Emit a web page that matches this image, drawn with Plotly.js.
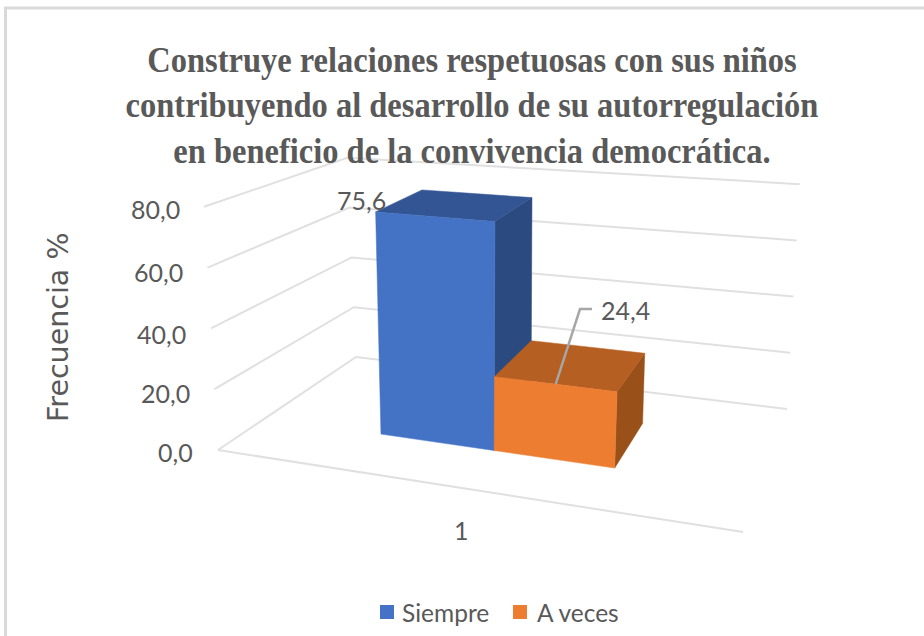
<!DOCTYPE html>
<html><head><meta charset="utf-8">
<script src="https://cdn.plot.ly/plotly-3.0.1.min.js"></script>
<style>html,body{margin:0;padding:0;background:#fff}#c{width:924px;height:636px}</style>
</head><body><div id="c"></div>
<script>
// ---- data ----
var titleLines = ['Construye relaciones respetuosas con sus niños','contribuyendo al desarrollo de su autorregulación','en beneficio de la convivencia democrática.'];
var categories = ['1'];
var seriesNames = ['Siempre','A veces'];
var seriesValues = [75.6, 24.4];
var tickValues = [0,20,40,60,80];
var axisTitle = 'Frecuencia %';

// ---- 3D camera: where the floor corners land, and vertical scale/lean at each corner ----
var corners = {
  FL:{x:218,y:450,k:3.04,d:-0.175}, FR:{x:743,y:532,k:3.47,d:0.22},
  BL:{x:356,y:357,k:2.49,d:-0.11},  BR:{x:787,y:409,k:2.81,d:0.16}
};
var barEdges = [0.233,0.463,0.708];
var depthEdges = [0.35,0.74];
var faceColors = [
  {front:'#4472C4',top:'#335593',side:'#2B4A80'},
  {front:'#ED7D31',top:'#B65F23',side:'#9A5019'}
];
function mix(key,u,w){
  var c=corners;
  return (1-w)*((1-u)*c.FL[key]+u*c.FR[key])+w*((1-u)*c.BL[key]+u*c.BR[key]);
}
function P(u,w,v){ return [mix('x',u,w)+mix('d',u,w)*v, mix('y',u,w)-mix('k',u,w)*v]; }
function fmt(v){ return v.toFixed(1).replace('.',','); }
var traces=[];
function poly(pts,color,name){
  traces.push({type:'scatter',mode:'lines',x:pts.map(function(p){return p[0]}).concat(pts[0][0]),
    y:pts.map(function(p){return p[1]}).concat(pts[0][1]),fill:'toself',fillcolor:color,
    line:{color:color,width:0.5},hoverinfo:'skip',name:name,showlegend:false});
}
function wire(pts){
  traces.push({type:'scatter',mode:'lines',x:pts.map(function(p){return p[0]}),y:pts.map(function(p){return p[1]}),
    line:{color:'#E0E0E0',width:2},hoverinfo:'skip',showlegend:false});
}
tickValues.forEach(function(v){ wire([P(0,0,v),P(0,1,v),P(1,1,v)]); });
wire([P(0,0,0),P(1,0,0)]);
seriesValues.forEach(function(v,i){
  var u0=barEdges[i],u1=barEdges[i+1],w0=depthEdges[0],w1=depthEdges[1],col=faceColors[i],n=seriesNames[i];
  poly([P(u1,w0,0),P(u1,w1,0),P(u1,w1,v),P(u1,w0,v)],col.side,n);
  poly([P(u0,w0,v),P(u0,w1,v),P(u1,w1,v),P(u1,w0,v)],col.top,n);
  poly([P(u0,w0,0),P(u1,w0,0),P(u1,w0,v),P(u0,w0,v)],col.front,n);
});
// leader line of the second label
var topMid=P((barEdges[1]+barEdges[2])/2,depthEdges[0],seriesValues[1]);
traces.push({type:'scatter',mode:'lines',x:[topMid[0],580,592],y:[topMid[1],309,309],
  line:{color:'#A6A6A6',width:2.5},hoverinfo:'skip',showlegend:false});
// legend swatches
var legendY=612, legendX=[387,520], legendTextX=[400,535];
seriesNames.forEach(function(n,i){
  traces.push({type:'scatter',mode:'markers',x:[legendX[i]],y:[legendY],
    marker:{symbol:'square',size:14,color:faceColors[i].front},hoverinfo:'skip',showlegend:false});
});
var tickFont={family:'Lato, sans-serif',size:25,color:'#595959'};
var anns=[];
function ann(x,y,text,anchor,font,extra){
  var a={xref:'x',yref:'y',x:x,y:y,text:text,showarrow:false,xanchor:anchor,yanchor:'middle',font:font};
  for(var k in extra)a[k]=extra[k]; anns.push(a);
}
var tickLabelY=[452,393,334,272,209], tickLabelX=[195,192,188,185,182];
tickValues.forEach(function(v,i){ ann(tickLabelX[i],tickLabelY[i],fmt(v),'right',tickFont); });
ann(361,200,fmt(seriesValues[0]),'center',tickFont);
ann(625,310,fmt(seriesValues[1]),'center',tickFont);
ann(461,530,categories[0],'center',tickFont);
seriesNames.forEach(function(n,i){ ann(legendTextX[i],612,n,'left',{family:tickFont.family,size:24.5,color:tickFont.color}); });
ann(58,328,axisTitle,'center',{family:'DejaVu Sans, sans-serif',size:28.5,color:'#595959'},{textangle:-90});

var layout={
  width:924,height:636,margin:{l:0,r:0,t:0,b:0},paper_bgcolor:'#fff',plot_bgcolor:'#fff',showlegend:false,
  title:{text:titleLines.join('<br>'),x:472/924,xanchor:'center',y:1-74/636,yanchor:'middle',yref:'paper',
    font:{family:'Liberation Serif, serif',size:32.5,color:'#595959',weight:700}},
  xaxis:{range:[0,924],visible:false,fixedrange:true},
  yaxis:{range:[636,0],visible:false,fixedrange:true},
  annotations:anns,
  shapes:[
    {type:'line',xref:'paper',yref:'paper',x0:5.5/924,x1:5.5/924,y0:1-8/636,y1:0,line:{color:'#D9D9D9',width:3}},
    {type:'line',xref:'paper',yref:'paper',x0:4/924,x1:1,y0:1-8/636,y1:1-8/636,line:{color:'#D9D9D9',width:3}}
  ]
};
Plotly.newPlot('c',traces,layout,{displayModeBar:false,staticPlot:true}).then(function(gd){
  // the reference title is drawn slightly taller than wide
  var t=gd.querySelector('.gtitle');
  if(t){ t.setAttribute('transform','translate(0,105) scale(1,1.08) translate(0,-105)'); }
});
</script></body></html>
